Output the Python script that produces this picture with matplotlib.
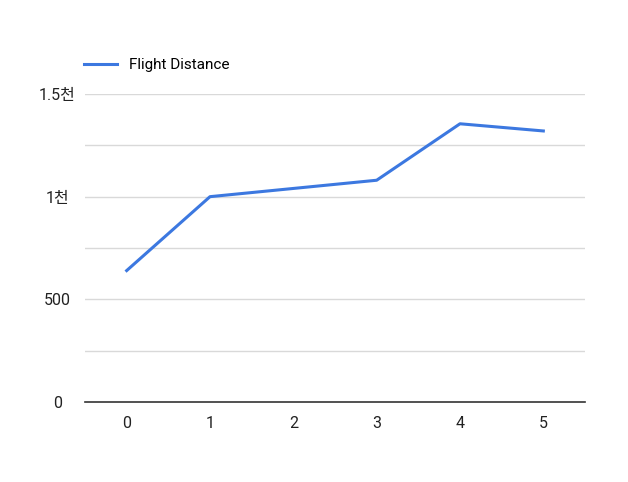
import matplotlib
matplotlib.use("Agg")
import matplotlib.pyplot as plt

x = [0, 1, 2, 3, 4, 5]
flight_distance = [640, 1000, 1040, 1080, 1355, 1320]
yticks = [0, 500, 1000, 1500]
ylabels = ["0", "500", "1천", "1.5천"]
grid_vals = [250, 500, 750, 1000, 1250, 1500]

plt.rcParams['font.family'] = ['Roboto', 'Noto Sans CJK KR', 'DejaVu Sans']
fig = plt.figure(figsize=(6.28, 4.82), dpi=100)
ax = fig.add_axes([85/628, 80/482, 500/628, 308/482])
for g in grid_vals:
    ax.axhline(g, color='#d9d9d9', lw=1, zorder=0)
ax.plot(x, flight_distance, color='#3c78e0', lw=2.2, label='Flight Distance', zorder=3)
ax.set_xlim(-0.5, 5.5)
ax.set_ylim(0, 1500)
ax.set_xticks(x)
ax.set_yticks(yticks)
ax.set_yticklabels(ylabels, ha='center')
ax.tick_params(length=0, labelsize=11.5, colors='#222222', pad=10)
ax.tick_params(axis='y', pad=20)
for s in ['top', 'right', 'left']:
    ax.spines[s].set_visible(False)
ax.spines['bottom'].set_color('#333333')
ax.spines['bottom'].set_linewidth(1.2)
ax.spines['bottom'].set_zorder(4)
leg = ax.legend(loc='lower left', bbox_to_anchor=(-0.015, 1.05), frameon=False,
                fontsize=11, handlelength=2.2, borderaxespad=0)
fig.savefig("out.png", dpi=100)
